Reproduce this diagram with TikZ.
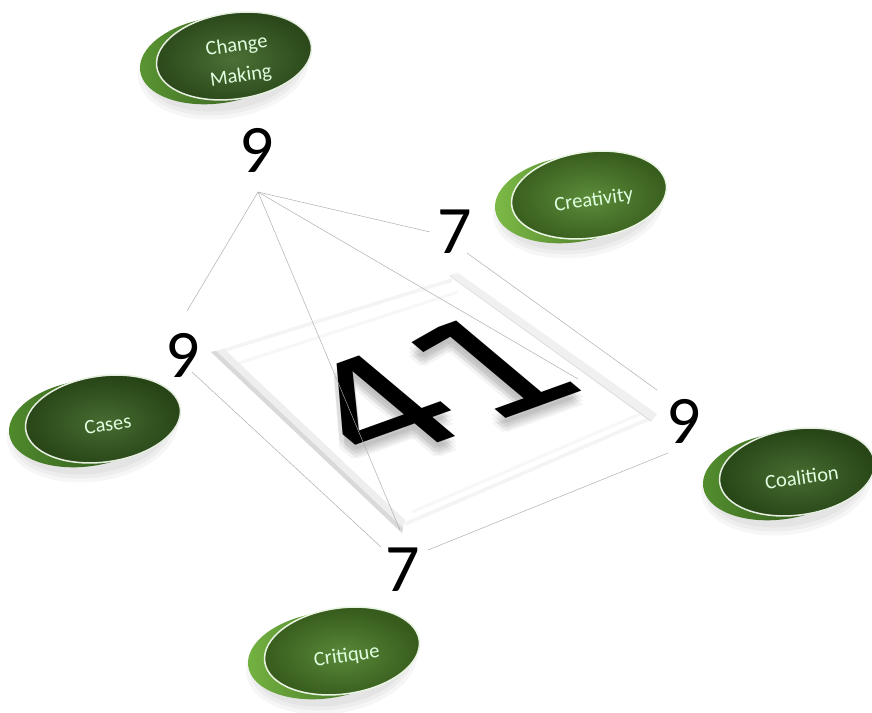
\documentclass[tikz,border=0pt]{standalone}
\usepackage{fontspec}
\setmainfont{Carlito}
\newfontfamily\digitfont{DejaVu Sans}

\definecolor{chfront}{HTML}{3B6424}
\definecolor{chback}{HTML}{5A9632}
\definecolor{crfront}{HTML}{4E8229}
\definecolor{crback}{HTML}{7DBB47}
\definecolor{cafront}{HTML}{365F1F}
\definecolor{caback}{HTML}{4F8B2C}
\definecolor{cofront}{HTML}{36601F}
\definecolor{coback}{HTML}{538F2E}
\definecolor{ctfront}{HTML}{4B7E27}
\definecolor{ctback}{HTML}{74B342}

\tikzset{
  number/.style={font=\fontsize{58}{58}\selectfont, inner sep=0pt},
  pilltext/.style={font=\fontsize{17.5}{26}\selectfont, text=white!88!green, align=center, inner sep=0pt},
  bignum/.style={cm={3.085,1.111,-2.249,1.888,(0,0)}, transform shape, inner sep=0pt,
    font=\digitfont\fontsize{50}{50}\selectfont},
  wire/.style={gray!65, line width=0.4pt},
}

% #1 name, #2 centre, #3 label, #4 front colour, #5 back colour
\newcommand\pill[5]{%
  \begin{scope}[shift={#2}, rotate=8]
    \foreach \s in {0,4,8}
      \fill[black, opacity=0.035] (-12,10) ellipse [x radius=78+\s, y radius=43+\s];
    \shade[left color=#5, right color=#4!75!black] (-17,2) ellipse [x radius=78, y radius=43];
    \shade[inner color=#4!92!white, outer color=#4!72!black, draw=white!85!#5, line width=1.3pt]
      (0,0) ellipse [x radius=78, y radius=43];
    \node[pilltext, transform shape] (#1) at (4,6) {#3};
  \end{scope}}

\begin{document}
\begin{tikzpicture}[x=0.03cm, y=-0.03cm]
  \fill[white] (0,0) rectangle (872,713);
  \useasboundingbox (0,0) rectangle (872,713);

  % tray
  \draw[gray!9, line width=3pt] (222,351) -- (452,280);
  \draw[gray!6, line width=2.5pt] (236,364) -- (458,292);
  \draw[gray!9, line width=3pt] (405,524) -- (651,418);
  \draw[gray!6, line width=2.5pt] (412,512) -- (640,414);
  \fill[gray!13] (211,352) -- (224,349) -- (405,520) -- (402,533) -- cycle;
  \fill[gray!30] (211,352) -- (216,351) -- (403,528) -- (402,533) -- cycle;
  \fill[gray!12] (450,275) -- (458,273) -- (657,414) -- (651,422) -- cycle;
  \draw[gray!28, line width=0.6pt] (450,276) -- (651,421);

  % the total, with a soft shadow
  \foreach \dx in {0,5}
    \foreach \dy in {6,10,14}{
      \begin{scope}[shift={(433+\dx,386+\dy)}]
        \node[bignum, text=black, opacity=0.045] (shadow\dx\dy) at (0,0) {41};
      \end{scope}}
  \begin{scope}[shift={(436,386)}]
    \node[bignum] (total) at (0,0) {41};
  \end{scope}

  % wires
  \coordinate (apex) at (258,192);
  \coordinate (wl) at (187,311);
  \coordinate (wt) at (430,232);
  \coordinate (wr) at (578,379);
  \coordinate (wb) at (400,530);
  \coordinate (l9) at (192,372);
  \coordinate (b7l) at (381,547);
  \coordinate (b7r) at (428,550);
  \coordinate (r9b) at (668,453);
  \coordinate (t7) at (467,253);
  \coordinate (r9t) at (657,390);
  \draw[wire] (apex) -- (wl);
  \draw[wire] (apex) -- (wt);
  \draw[wire] (apex) -- (wr);
  \draw[wire] (apex) -- (wb);
  \draw[wire] (l9) -- (b7l);
  \draw[wire] (b7r) -- (r9b);
  \draw[wire] (t7) -- (r9t);

  \node[number] (ninetop) at (257,150) {9};
  \node[number] (seventop) at (455,232) {7};
  \node[number] (nineleft) at (183,355) {9};
  \node[number] (nineright) at (684,421) {9};
  \node[number] (sevenbottom) at (403,570) {7};

  \pill{change}{(234,56)}{Change\\Making}{chfront}{chback}
  \pill{creativity}{(589,195)}{Creativity}{crfront}{crback}
  \pill{cases}{(103,419)}{Cases}{cafront}{caback}
  \pill{coalition}{(797,472)}{Coalition}{cofront}{coback}
  \pill{critique}{(342,651)}{Critique}{ctfront}{ctback}
\end{tikzpicture}
\end{document}
